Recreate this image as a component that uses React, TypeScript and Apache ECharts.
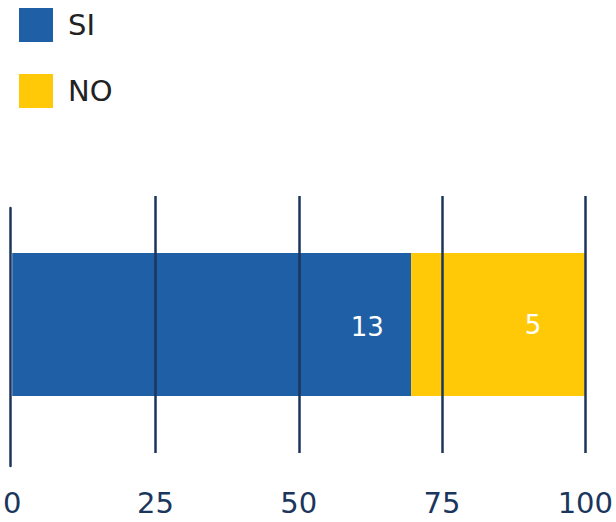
import React, { useEffect, useRef } from "react";
import * as echarts from "echarts";

const categories = [""];
const siCounts = [13];
const noCounts = [5];
const siShare = [69.6];
const noShare = [30.4];
const tickValues = [0, 25, 50, 75, 100];

const FONT = "'DejaVu Sans', sans-serif";
const NAVY = "#1b365d";

export default function App() {
  const ref = useRef<HTMLDivElement>(null);
  useEffect(() => {
    document.body.style.margin = "0";
    if (!ref.current) return;
    const chart = echarts.init(ref.current, null, { renderer: "svg" });
    chart.setOption({
      animation: false,
      legend: {
        orient: "vertical",
        left: 19,
        top: 8,
        padding: 0,
        itemWidth: 34,
        itemHeight: 34,
        itemGap: 32,
        icon: "rect",
        textStyle: { fontFamily: FONT, fontSize: 29, color: "#222", padding: [0, 0, 0, 10] },
        data: ["SI", "NO"],
      },
      grid: [
        { left: 10.5, right: 27.5, top: 196, bottom: 69 },
        { left: 10.5, right: 27.5, top: 208, bottom: 56 },
      ],
      xAxis: [
        {
          type: "value",
          min: tickValues[0],
          max: tickValues[tickValues.length - 1],
          interval: 25,
          z: 5,
          axisLine: { show: false },
          axisTick: { show: false },
          splitLine: { show: true, showMinLine: false, showMaxLine: true, lineStyle: { color: NAVY, width: 2.5 } },
          axisLabel: { fontFamily: FONT, fontSize: 29, color: NAVY, margin: 35 },
        },
        { type: "value", gridIndex: 1, show: false, min: 0, max: 100 },
      ],
      yAxis: [
        {
          type: "category",
          data: categories,
          axisLine: { show: false },
          axisTick: { show: false },
          axisLabel: { show: false },
        },
        {
          type: "category",
          gridIndex: 1,
          data: categories,
          z: 5,
          axisLine: { show: true, lineStyle: { color: NAVY, width: 2.5 } },
          axisTick: { show: false },
          axisLabel: { show: false },
        },
      ],
      series: [
        {
          name: "SI",
          type: "bar",
          stack: "total",
          barWidth: 143,
          data: siShare,
          itemStyle: { color: "#1f5fa6" },
          label: {
            show: true,
            position: ["89%", "52%"],
            align: "center",
            verticalAlign: "middle",
            fontFamily: FONT,
            fontSize: 26,
            color: "#fff",
            formatter: (p: any) => String(siCounts[p.dataIndex]),
          },
        },
        {
          name: "NO",
          type: "bar",
          stack: "total",
          barWidth: 143,
          data: noShare,
          itemStyle: { color: "#ffc907" },
          label: {
            show: true,
            position: ["70%", "50%"],
            align: "center",
            verticalAlign: "middle",
            fontFamily: FONT,
            fontSize: 26,
            color: "#fff",
            formatter: (p: any) => String(noCounts[p.dataIndex]),
          },
        },
      ],
    });
    return () => chart.dispose();
  }, []);
  return <div ref={ref} style={{ width: 616, height: 522 }} />;
}
